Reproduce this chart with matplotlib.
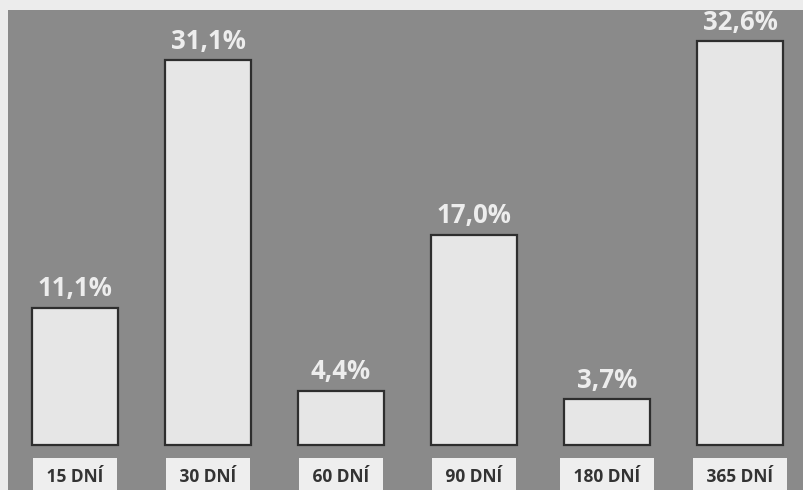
import matplotlib
matplotlib.use("Agg")
import matplotlib.pyplot as plt

categories = ["15 DNÍ", "30 DNÍ", "60 DNÍ", "90 DNÍ", "180 DNÍ", "365 DNÍ"]
values = [11.1, 31.1, 4.4, 17.0, 3.7, 32.6]
value_labels = ["11,1%", "31,1%", "4,4%", "17,0%", "3,7%", "32,6%"]

W, H = 804, 490
fig = plt.figure(figsize=(W / 100, H / 100), dpi=100)
fig.patch.set_facecolor("#ececec")

# gray panel occupies the figure except a thin light margin at top/left
left_px, top_px = 8, 10
ax = fig.add_axes([left_px / W, 0, (W - left_px) / W, (H - top_px) / H])
ax.set_facecolor("#8a8a8a")

px_per_unit = 12.38
base_px = 445           # baseline, pixels from figure top
ax.set_ylim(-(H - base_px) / px_per_unit, (base_px - top_px) / px_per_unit)
x0_px, step_px = 75, 133
ax.set_xlim(-(x0_px - left_px) / step_px, (W - x0_px) / step_px)

x = list(range(len(values)))
ax.bar(x, values, width=0.645, color="#e6e6e6", edgecolor="#2e2e2e",
       linewidth=1.6, zorder=2)

for xi, v, lab in zip(x, values, value_labels):
    ax.annotate(lab, (xi, v), xytext=(0, 8), textcoords="offset points",
                ha="center", va="baseline", fontsize=18.5, fontweight="bold",
                family="Open Sans", color="#ededed", annotation_clip=False,
                clip_on=False)

label_y = -(477 - base_px) / px_per_unit
for xi, cat in zip(x, categories):
    ax.text(xi, label_y, " " + cat + " ", ha="center", va="center",
            fontsize=12.5, fontweight="bold", family="Open Sans",
            color="#333333",
            bbox=dict(boxstyle="square,pad=0.55", facecolor="#eeeeee",
                      edgecolor="none"))

for s in ax.spines.values():
    s.set_visible(False)
ax.set_xticks([])
ax.set_yticks([])

fig.savefig("out.png", dpi=100, facecolor=fig.get_facecolor())
